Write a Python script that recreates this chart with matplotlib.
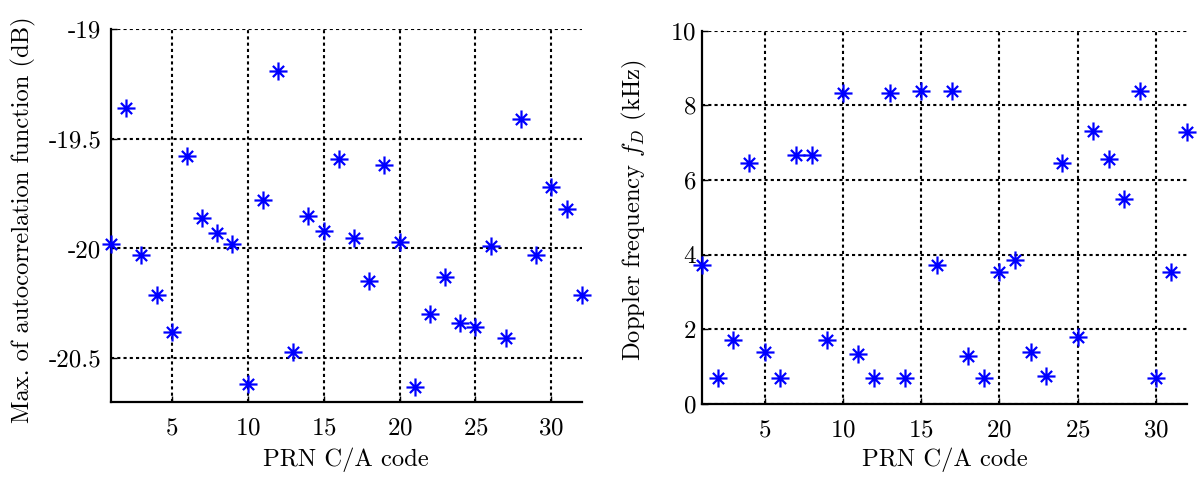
import numpy as np
import matplotlib.pyplot as plt
from matplotlib.path import Path

plt.rcParams['font.family'] = 'cmr10'
plt.rcParams['mathtext.fontset'] = 'cm'
plt.rcParams['axes.unicode_minus'] = False
plt.rcParams['axes.formatter.use_mathtext'] = True

prn = np.arange(1, 33)
max_acf_db = [-19.98, -19.36, -20.03, -20.21, -20.38, -19.58, -19.86, -19.93,
              -19.98, -20.62, -19.78, -19.19, -20.47, -19.85, -19.92, -19.59,
              -19.95, -20.15, -19.62, -19.97, -20.63, -20.30, -20.13, -20.34,
              -20.36, -19.99, -20.41, -19.41, -20.03, -19.72, -19.82, -20.21]
doppler_khz = [3.73, 0.69, 1.71, 6.46, 1.38, 0.69, 6.67, 6.67,
               1.71, 8.34, 1.34, 0.69, 8.34, 0.69, 8.39, 3.73,
               8.39, 1.29, 0.69, 3.53, 3.86, 1.39, 0.75, 6.46,
               1.78, 7.32, 6.57, 5.50, 8.39, 0.69, 3.53, 7.28]

# matlab style '*' marker: plus plus shorter diagonals
d = 0.62
star = Path([(-1, 0), (1, 0), (0, -1), (0, 1), (-d, -d), (d, d), (-d, d), (d, -d)],
            [Path.MOVETO, Path.LINETO] * 4)

fs_tick = 18
fs_lab = 17.7
fig = plt.figure(figsize=(11.97, 4.78), dpi=100)
ax1 = fig.add_axes([0.0927, 0.159, 0.486 - 0.0927, 0.939 - 0.159])
ax2 = fig.add_axes([0.5865, 0.155, 0.9917 - 0.5865, 0.936 - 0.155])

for ax, y in [(ax1, max_acf_db), (ax2, doppler_khz)]:
    ax.plot(prn, y, linestyle='none', marker=star, markersize=13,
            markeredgewidth=1.6, markerfacecolor='none', color='#0000ff',
            clip_on=False, zorder=5)
    ax.set_xlim(1, 32)
    ax.set_xticks([5, 10, 15, 20, 25, 30])
    ax.grid(True, color='black', linestyle=(0, (1.5, 1.5)), linewidth=1.5)
    ax.spines['top'].set_visible(False)
    ax.spines['right'].set_visible(False)
    ax.spines['left'].set_linewidth(1.6)
    ax.spines['bottom'].set_linewidth(1.6)
    ax.tick_params(direction='in', length=4, width=1, labelsize=fs_tick)
    ax.tick_params(axis='x', pad=11)
    ax.set_xlabel('PRN C/A code', fontsize=fs_lab)

ax1.set_ylim(-20.7, -19)
ax1.set_yticks([-20.5, -20, -19.5, -19])
ax1.set_yticklabels(['-20.5', '-20', '-19.5', '-19'])
ax1.tick_params(axis='y', pad=7)
ax1.set_ylabel('Max. of autocorrelation function (dB)', fontsize=fs_lab)
ax1.xaxis.set_label_coords(0.5, -0.123)
ax1.yaxis.set_label_coords(-0.16, 0.49)

ax2.set_ylim(0, 10)
ax2.set_yticks([0, 2, 4, 6, 8, 10])
ax2.tick_params(axis='y', pad=4)
ax2.set_ylabel('Doppler frequency $f_D$ (kHz)', fontsize=fs_lab)
ax2.xaxis.set_label_coords(0.5, -0.118)
ax2.yaxis.set_label_coords(-0.11, 0.52)

fig.savefig('out.png', dpi=100)
